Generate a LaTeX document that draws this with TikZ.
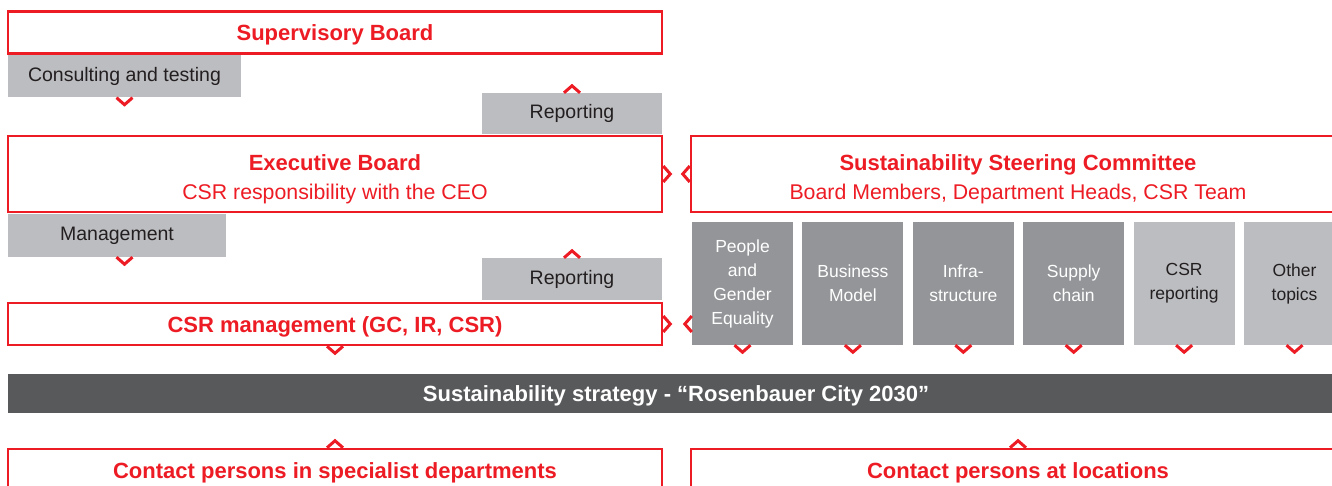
\documentclass[tikz,border=0pt]{standalone}
\usepackage{fontspec}
\setmainfont{Liberation Sans}

\definecolor{rbred}{HTML}{ED1C24}
\definecolor{rblight}{HTML}{BCBDC0}
\definecolor{rbdark}{HTML}{939598}
\definecolor{rbbar}{HTML}{58595B}
\definecolor{rbtext}{HTML}{231F20}

\newcommand{\topstrut}{\rule{0pt}{27pt}}

\tikzset{
  redbox/.style={draw=rbred, line width=2.5pt, fill=white, text=rbred, minimum width=654pt,
    minimum height=42pt, inner sep=0pt, align=center, font=\fontsize{22}{29}\selectfont},
  onecap/.style={text height=16pt, text depth=0pt},
  greybox/.style={fill=rblight, text=rbtext, minimum height=42pt, inner sep=0pt,
    text height=10pt, text depth=0pt, font=\fontsize{19.5}{24}\selectfont},
  subline/.style={font=\fontsize{21.3}{29}\selectfont},
  topicbox/.style={minimum width=101pt, minimum height=123pt, inner sep=0pt, align=center,
    font=\fontsize{17.5}{24}\selectfont},
  chevron/.style={draw=rbred, line width=3pt}
}

\begin{document}
\begin{tikzpicture}[x=1pt, y=-1pt]
    \useasboundingbox (0,0) rectangle (1332,486);
    \clip (0,0) rectangle (1332,486);

    % left column
    \node (sup) [redbox, onecap] at (335,32.5) {\textbf{Supervisory Board}};
    \node (cons) [greybox, minimum width=233pt] at (124.5,76.5) {Consulting and testing};
    \node (rep1) [greybox, minimum width=180pt, minimum height=41pt] at (572,113.5) {Reporting};
    \node (exec) [redbox, subline, minimum height=76pt] at (335,174)
        {\topstrut\fontsize{22}{29}\selectfont\textbf{Executive Board}\\CSR responsibility with the CEO};
    \node (mgmt) [greybox, minimum width=218pt, minimum height=43pt] at (117,235.5) {Management};
    \node (rep2) [greybox, minimum width=180pt] at (572,279) {Reporting};
    \node (csr) [redbox, onecap] at (335,324) {\textbf{CSR management (GC, IR, CSR)}};

    % right column
    \node (steer) [redbox, subline, minimum height=76pt] at (1018,174)
        {\topstrut\fontsize{22}{29}\selectfont\textbf{Sustainability Steering Committee}\\Board Members, Department Heads, CSR Team};
    \foreach \txt/\col/\tcol [count=\i] in {
        {People\\and\\Gender\\Equality}/rbdark/white,
        {Business\\Model}/rbdark/white,
        {Infra-\\structure}/rbdark/white,
        {Supply\\chain}/rbdark/white,
        {CSR\\reporting}/rblight/rbtext,
        {Other\\topics}/rblight/rbtext} {
        \node (t\i) [topicbox, fill=\col, text=\tcol] at ({742.5+(\i-1)*110.4},283.5) {\txt};
        \draw[chevron] (t\i.south) +(-8,0) -- +(0,7) -- +(8,0);
    }

    % strategy and contacts
    \node (strat) [fill=rbbar, text=white, minimum width=1336pt, minimum height=39pt, inner sep=0pt,
        onecap, font=\fontsize{22}{26}\selectfont\bfseries] at (676,393.5)
        {Sustainability strategy - “Rosenbauer City 2030”};
    \node (cpdep) [redbox, onecap] at (335,470) {\textbf{Contact persons in specialist departments}};
    \node (cploc) [redbox, onecap] at (1018,470) {\textbf{Contact persons at locations}};

    % chevrons
    \begin{scope}[chevron]
        \draw (cons.south) +(-8,0) -- +(0,7) -- +(8,0);
        \draw (cons.south |- mgmt.south) +(-8,0) -- +(0,7) -- +(8,0);
        \draw (rep1.north) +(-8,0) -- +(0,-7) -- +(8,0);
        \draw (rep2.north) +(-8,0) -- +(0,-7) -- +(8,0);
        \draw (exec.east) +(0,-8) -- +(7,0) -- +(0,8);
        \draw (steer.west) +(0,-8) -- +(-7,0) -- +(0,8);
        \draw (csr.south) +(-8,0) -- +(0,7) -- +(8,0);
        \draw (csr.east) +(0,-8) -- +(7,0) -- +(0,8);
        \draw (t1.west |- csr.east) +(0,-8) -- +(-7,0) -- +(0,8);
        \draw (cpdep.north) +(-8,0) -- +(0,-7) -- +(8,0);
        \draw (cploc.north) +(-8,0) -- +(0,-7) -- +(8,0);
    \end{scope}
\end{tikzpicture}
\end{document}
